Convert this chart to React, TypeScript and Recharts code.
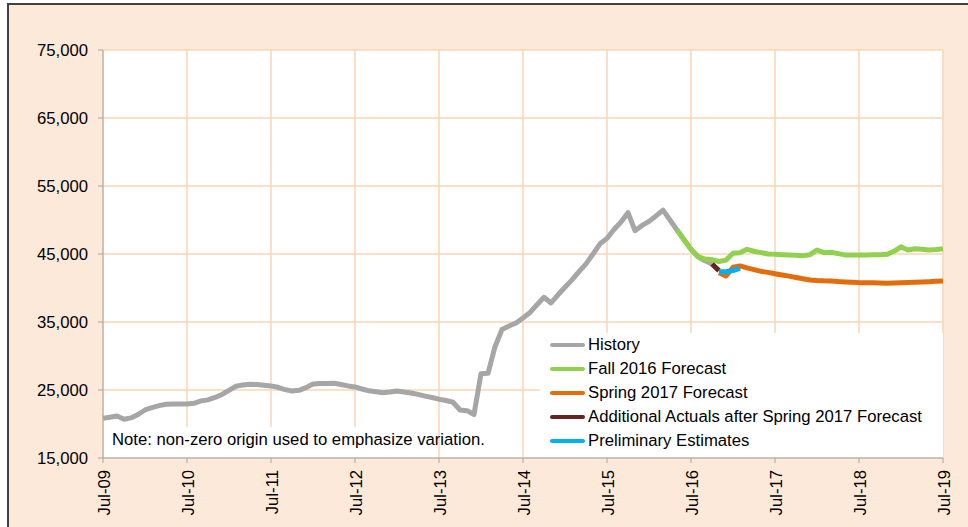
import React from 'react';
import { LineChart, Line, XAxis, YAxis, CartesianGrid, Legend } from 'recharts';

// Month index 0 = Jul-09 ... 120 = Jul-19
const xTickLabels = ['Jul-09', 'Jul-10', 'Jul-11', 'Jul-12', 'Jul-13', 'Jul-14', 'Jul-15', 'Jul-16', 'Jul-17', 'Jul-18', 'Jul-19'];
const yTicks = [15000, 25000, 35000, 45000, 55000, 65000, 75000];

const historyStart = 0;
const history = [
  20840, 21000, 21180, 20700, 20900, 21400, 22060, 22400, 22700, 22900,
  22950, 22950, 22950, 23050, 23400, 23550, 23900, 24350, 24950, 25550,
  25750, 25840, 25800, 25700, 25600, 25400, 25050, 24850, 24950, 25350,
  25880, 25950, 25970, 25980, 25800, 25600, 25450, 25150, 24880, 24750,
  24610, 24700, 24850, 24700, 24550, 24350, 24100, 23900, 23650, 23450,
  23200, 22060, 21960, 21400, 27400, 27450, 31370, 33900, 34400, 34850,
  35600, 36400, 37550, 38630, 37800, 39000, 40100, 41200, 42400, 43550,
  45000, 46500, 47300, 48600, 49700, 51080, 48430, 49200, 49800, 50600,
  51450, 50000, 48530, 47100, 45700, 44600, 44000, 43530,
];

const fallStart = 82;
const fall2016 = [
  48530, 47100, 45700, 44600, 44250, 44150, 43900, 44100, 45100, 45200,
  45690, 45400, 45200, 45000, 44950, 44900, 44850, 44800, 44760, 44900,
  45590, 45200, 45250, 45050, 44870, 44850, 44850, 44850, 44900, 44900,
  44950, 45400, 46050, 45600, 45780, 45700, 45600, 45650, 45780,
];

const springStart = 88;
const spring2017 = [
  42250, 41760, 43040, 43240, 42950, 42700, 42450, 42300, 42100, 41920,
  41750, 41550, 41350, 41180, 41100, 41050, 41030, 40950, 40900, 40850,
  40790, 40780, 40760, 40720, 40690, 40720, 40760, 40800, 40840, 40880,
  40920, 40980, 41030,
];

const actualsStart = 87;
const additionalActuals = [43530, 42550];

const prelimStart = 88;
const preliminary = [42400, 42400, 42570, 42890];

const series = [
  { key: 'history', name: 'History', color: '#A6A6A6', values: history, start: historyStart },
  { key: 'fall', name: 'Fall 2016 Forecast', color: '#92D050', values: fall2016, start: fallStart },
  { key: 'spring', name: 'Spring 2017 Forecast', color: '#E46C0A', values: spring2017, start: springStart },
  { key: 'actuals', name: 'Additional Actuals after Spring 2017 Forecast', color: '#632523', values: additionalActuals, start: actualsStart },
  { key: 'prelim', name: 'Preliminary Estimates', color: '#00B0F0', values: preliminary, start: prelimStart },
];

const noteText = 'Note: non-zero origin used to emphasize variation.';

const N_MONTHS = 121;
const data = Array.from({ length: N_MONTHS }, (_, i) => {
  const row: Record<string, number | null> = { i };
  series.forEach((s) => {
    const k = i - s.start;
    row[s.key] = k >= 0 && k < s.values.length ? s.values[k] : null;
  });
  return row;
});

const FONT = '"Liberation Sans", Arial, sans-serif';
const FS = 16.7;

const XTick = (props: any) => {
  const { x, y, payload } = props;
  const label = xTickLabels[Math.round(payload.value / 12)];
  const bx = x + 7;
  return (
    <text
      x={bx}
      y={y}
      transform={`rotate(-90, ${bx}, ${y})`}
      textAnchor="end"
      fontFamily={FONT}
      fontSize={FS}
      fill="#000"
    >
      {label}
    </text>
  );
};

const LegendContent = () => (
  <div style={{ background: '#fff', width: 403, height: 124, fontFamily: FONT, fontSize: FS, color: '#000' }}>
    {series.map((s) => (
      <div key={s.key} style={{ height: 24, display: 'flex', alignItems: 'center', whiteSpace: 'nowrap' }}>
        <div style={{ marginLeft: 10, width: 35, height: 4, borderRadius: 2, background: s.color, marginRight: 3 }} />
        <span>{s.name}</span>
      </div>
    ))}
  </div>
);

export default function App() {
  return (
    <div style={{ position: 'absolute', left: 0, top: 0, width: 968, height: 527, overflow: 'hidden' }}>
      <div
        style={{
          position: 'absolute',
          left: 7,
          top: 3,
          width: 1000,
          height: 600,
          background: '#FDE9D9',
          border: '2px solid #404040',
        }}
      />
      <div style={{ position: 'absolute', left: 0, top: 0 }}>
        <LineChart width={968} height={527} data={data} margin={{ top: 50, right: 25, bottom: 0, left: 0 }}>
          <CartesianGrid stroke="#FBD4B4" strokeWidth={1.5} fill="#ffffff" />
          <XAxis
            dataKey="i"
            type="number"
            domain={[0, 120]}
            ticks={xTickLabels.map((_, k) => k * 12)}
            height={69}
            tickSize={5}
            tickMargin={7}
            tick={<XTick />}
            stroke="#A6A6A6"
            tickLine={{ stroke: '#A6A6A6' }}
            axisLine={{ stroke: '#A6A6A6' }}
          />
          <YAxis
            type="number"
            domain={[15000, 75000]}
            ticks={yTicks}
            width={103}
            tickSize={5}
            tickMargin={10}
            tickFormatter={(v: number) => v.toLocaleString('en-US')}
            tick={{ fontFamily: FONT, fontSize: FS, fill: '#000' }}
            stroke="#A6A6A6"
            axisLine={{ stroke: '#A6A6A6' }}
            tickLine={{ stroke: '#A6A6A6' }}
            allowDataOverflow
          />
          {series.map((s) => (
            <Line
              key={s.key}
              dataKey={s.key}
              name={s.name}
              type="linear"
              stroke={s.color}
              strokeWidth={5}
              strokeLinejoin="round"
              dot={false}
              activeDot={false}
              connectNulls={false}
              isAnimationActive={false}
            />
          ))}
          <Legend
            layout="horizontal"
            verticalAlign="middle"
            align="center"
            content={<LegendContent />}
            wrapperStyle={{ left: 540, top: 333, width: 403, height: 124 }}
          />
        </LineChart>
      </div>
      <div
        style={{
          position: 'absolute',
          left: 104,
          top: 427,
          width: 328,
          height: 30,
          background: '#fff',
        }}
      />
      <div
        style={{
          position: 'absolute',
          left: 112,
          top: 430,
          fontFamily: FONT,
          fontSize: FS,
          color: '#000',
          whiteSpace: 'nowrap',
          lineHeight: '20px',
        }}
      >
        {noteText}
      </div>
    </div>
  );
}
